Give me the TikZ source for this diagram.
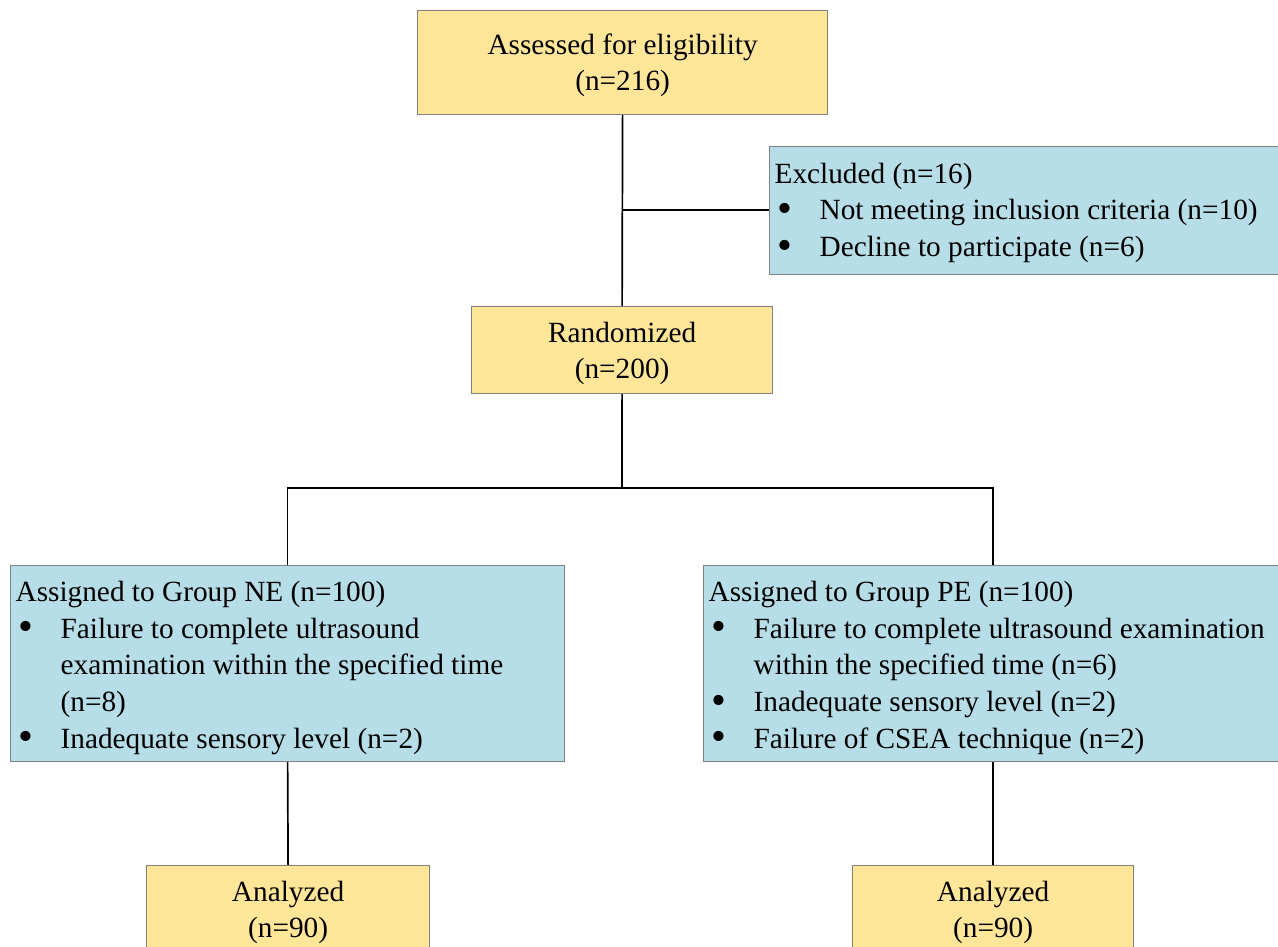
\documentclass[tikz,border=0pt]{standalone}
\usepackage{fontspec}
\usepackage{graphicx}
\setmainfont{Liberation Serif}
\definecolor{boxyellow}{HTML}{FFE699}
\definecolor{boxblue}{HTML}{B7DDE8}
\definecolor{boxborder}{HTML}{808080}
\newcommand{\boxfont}{\fontsize{29.3}{36.7}\selectfont}
\newcommand{\fixsp}{\spaceskip=0.25em plus 0.1em minus 0.05em\relax}
\newcommand{\bigbullet}{\smash{\raisebox{-2.5pt}{\scalebox{1.45}{\textbullet}}}}
\newcommand{\bitem}[1]{\par\noindent\hangindent=45pt\hangafter=1\makebox[45pt][l]{\hspace{3pt}\bigbullet}#1}
\newcommand{\topstrut}[1]{\rule{0pt}{#1}}
\begin{document}
\begin{tikzpicture}[x=1pt,y=-1pt,
  every node/.style={font=\boxfont, execute at begin node=\fixsp},
  ybox/.style={draw=boxborder, line width=1.2pt, fill=boxyellow, align=center, inner sep=0pt, anchor=north west},
  bbox/.style={draw=boxborder, line width=1.2pt, fill=boxblue, inner xsep=5pt, inner ysep=0pt, anchor=north west, align=left},
  link/.style={draw=black, line width=1.7pt}]
\clip (0,0) rectangle (1278,947);
\fill[white] (0,0) rectangle (1278,947);
% boxes
\node[ybox, minimum width=410pt, minimum height=104pt] (assess) at (417,10) {\topstrut{26pt}Assessed for eligibility\\(n=216)};
\node[bbox, text width=520pt, minimum height=128pt] (excl) at (769,146)
  {\noindent\topstrut{25pt}Excluded (n=16)\bitem{Not meeting inclusion criteria (n=10)}\bitem{Decline to participate (n=6)}};
\node[ybox, minimum width=301pt, minimum height=87pt] (rand) at (471,306) {\topstrut{27pt}Randomized\\(n=200)};
\node[bbox, text width=544pt, minimum height=196pt] (ne) at (10,565)
  {\noindent\topstrut{29pt}Assigned to Group NE (n=100)\bitem{Failure to complete ultrasound\newline examination within the specified time\newline (n=8)}\bitem{Inadequate sensory level (n=2)}};
\node[bbox, text width=590pt, minimum height=196pt] (pe) at (703,565)
  {\noindent\topstrut{29pt}Assigned to Group PE (n=100)\bitem{Failure to complete ultrasound examination\newline within the specified time (n=6)}\bitem{Inadequate sensory level (n=2)}\bitem{Failure of CSEA technique (n=2)}};
\node[ybox, minimum width=283pt, minimum height=87pt] (anl) at (146,865) {\topstrut{27pt}Analyzed\\(n=90)};
\node[ybox, minimum width=281pt, minimum height=87pt] (anr) at (852,865) {\topstrut{27pt}Analyzed\\(n=90)};
% connectors
\coordinate (split) at (622,488);
\coordinate (exj) at (622,210);
\draw[link] (assess.south) -- (rand.north);
\draw[link] (exj) -- (exj -| excl.west);
\draw[link] (rand.south) -- (split);
\draw[link] (split) -| (ne.north);
\draw[link] (split) -| (anr.north |- pe.north);
\draw[link] (ne.south) -- (anl.north);
\draw[link] (anr.north |- pe.south) -- (anr.north);
\end{tikzpicture}
\end{document}
